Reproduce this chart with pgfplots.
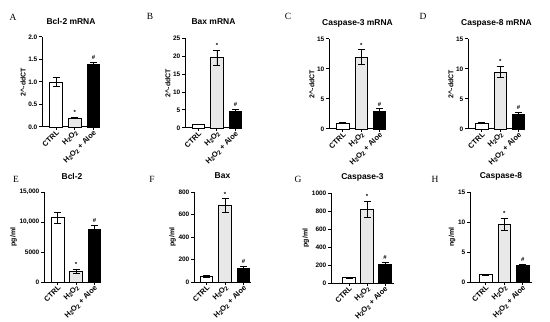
\documentclass[border=0pt]{standalone}
\usepackage{pgfplots}
\pgfplotsset{compat=1.18}
\usepackage{fontspec}
\setmainfont{Liberation Sans}
\newfontfamily\seriffont{Liberation Serif}
\definecolor{lgray}{HTML}{E8E8E8}
\newcommand{\sub}{\raisebox{-0.3ex}{\fontsize{6}{6}\selectfont 2}}
\newcommand{\hto}{H\sub O\sub}
\pgfplotsset{
  gp/.style={
    scale only axis,
    anchor=south west,
    height=90bp,
    axis x line*=bottom, axis y line*=left,
    axis line style={line width=1pt,-},
    ymin=0,
    scaled y ticks=false,
    xtick={0,1,2},
    xticklabels={CTRL,\hto,\hto{} + Aloe},
    tick align=outside,
    major tick length=3bp,
    tick style={line width=1pt,black},
    xticklabel style={rotate=45,anchor=east,font=\bfseries\fontsize{7.5}{8}\selectfont,inner sep=1pt,yshift=-2.5bp,xshift=1bp},
    yticklabel style={font=\bfseries\fontsize{6.5}{7}\selectfont,inner sep=1.5pt},
    ylabel style={font=\bfseries\fontsize{7}{8}\selectfont,inner sep=1pt},
    title style={font=\bfseries\fontsize{8.5}{10}\selectfont,at={(axis description cs:0.5,1)},anchor=center,yshift=10bp},
    /pgf/number format/assume math mode=true,
    /pgf/number format/1000 sep={},
    clip=false,
  },
  bst/.style={ybar,bar shift=0pt,bar width=12.5bp,draw=black,line width=0.8pt,
    error bars/y dir=both,error bars/y explicit,
    error bars/error bar style={line width=0.8pt,black},
    error bars/error mark options={rotate=90,mark size=3.5bp,line width=0.8pt,black}},
}
\tikzset{ann/.style={anchor=south,yshift=2bp,inner sep=0.5pt,font=\bfseries\fontsize{6}{7}\selectfont}}
\begin{document}
\begin{tikzpicture}
\useasboundingbox (0bp,0bp) rectangle (550bp,322bp);
% panel letters
\foreach \l/\px/\py in {A/13/17,B/150/16,C/288/16,D/423/16,E/16/179,F/152/179,G/298/179,H/435/179}{
  \node[font=\seriffont\fontsize{9.5}{10}\selectfont] at (\px bp,322bp-\py bp) {\l};
}
% ---------- A
\begin{axis}[gp,at={(42bp,195bp)},width=58bp,xmin=-0.75,xmax=2.35,ymax=2.0,
  ytick={0,0.5,1,1.5,2},yticklabel style={/pgf/number format/.cd,fixed,fixed zerofill,precision=1},
  ylabel={2\textasciicircum-ddCT},title={Bcl-2 mRNA}]
\addplot[bst,fill=white] coordinates {(0,1.0) +- (0,0.1)};
\addplot[bst,fill=lgray] coordinates {(1,0.2) +- (0,0.02)};
\addplot[bst,fill=black] coordinates {(2,1.4) +- (0,0.04)};
\node[ann] at (axis cs:1,0.22) {*};
\node[ann] at (axis cs:2,1.44) {\#};
\end{axis}
% ---------- B
\begin{axis}[gp,at={(185bp,194bp)},width=57bp,xmin=-0.72,xmax=2.35,ymax=25,
  ytick={0,5,10,15,20,25},
  ylabel={2\textasciicircum-ddCT},title={Bax mRNA}]
\addplot[bst,fill=white] coordinates {(0,1.0) +- (0,0.1)};
\addplot[bst,fill=lgray] coordinates {(1,19.5) +- (0,2.0)};
\addplot[bst,fill=black] coordinates {(2,4.7) +- (0,0.5)};
\node[ann] at (axis cs:1,21.5) {*};
\node[ann] at (axis cs:2,5.2) {\#};
\end{axis}
% ---------- C
\begin{axis}[gp,at={(329bp,193bp)},width=57bp,xmin=-0.75,xmax=2.35,ymax=15,
  ytick={0,5,10,15},
  ylabel={2\textasciicircum-ddCT},title={Caspase-3 mRNA}]
\addplot[bst,fill=white] coordinates {(0,1.0) +- (0,0.08)};
\addplot[bst,fill=lgray] coordinates {(1,12.0) +- (0,1.2)};
\addplot[bst,fill=black] coordinates {(2,3.0) +- (0,0.35)};
\node[ann] at (axis cs:1,13.2) {*};
\node[ann] at (axis cs:2,3.35) {\#};
\end{axis}
% ---------- D
\begin{axis}[gp,at={(468bp,193bp)},width=57bp,xmin=-0.75,xmax=2.35,ymax=15,
  ytick={0,5,10,15},
  ylabel={2\textasciicircum-ddCT},title={Caspase-8 mRNA}]
\addplot[bst,fill=white] coordinates {(0,1.0) +- (0,0.08)};
\addplot[bst,fill=lgray] coordinates {(1,9.5) +- (0,0.9)};
\addplot[bst,fill=black] coordinates {(2,2.5) +- (0,0.3)};
\node[ann] at (axis cs:1,10.4) {*};
\node[ann] at (axis cs:2,2.8) {\#};
\end{axis}
% ---------- E
\begin{axis}[gp,at={(44bp,40bp)},width=56bp,xmin=-0.75,xmax=2.3,ymax=15000,
  ytick={0,5000,10000,15000},yticklabels={0,5000,{10,000},{15,000}},
  ylabel={pg/ml},title={Bcl-2}]
\addplot[bst,fill=white] coordinates {(0,10700) +- (0,900)};
\addplot[bst,fill=lgray] coordinates {(1,1800) +- (0,300)};
\addplot[bst,fill=black] coordinates {(2,8700) +- (0,800)};
\node[ann] at (axis cs:1,2100) {*};
\node[ann] at (axis cs:2,9500) {\#};
\end{axis}
% ---------- F
\begin{axis}[gp,at={(194bp,40bp)},width=57bp,xmin=-0.68,xmax=2.4,ymax=800,
  ytick={0,200,400,600,800},
  ylabel={pg/ml},title={Bax}]
\addplot[bst,fill=white] coordinates {(0,50) +- (0,5)};
\addplot[bst,fill=lgray] coordinates {(1,680) +- (0,60)};
\addplot[bst,fill=black] coordinates {(2,125) +- (0,15)};
\node[ann] at (axis cs:1,740) {*};
\node[ann] at (axis cs:2,140) {\#};
\end{axis}
% ---------- G
\begin{axis}[gp,at={(331bp,39bp)},width=63bp,xmin=-1.0,xmax=2.5,ymax=1000,
  ytick={0,200,400,600,800,1000},
  ylabel={pg/ml},title={Caspase-3}]
\addplot[bst,fill=white] coordinates {(0,60) +- (0,5)};
\addplot[bst,fill=lgray] coordinates {(1,820) +- (0,90)};
\addplot[bst,fill=black] coordinates {(2,205) +- (0,25)};
\node[ann] at (axis cs:1,910) {*};
\node[ann] at (axis cs:2,230) {\#};
\end{axis}
% ---------- H
\begin{axis}[gp,at={(470bp,40bp)},width=62bp,xmin=-0.85,xmax=2.5,ymax=15,
  ytick={0,5,10,15},
  ylabel={ng/ml},title={Caspase-8}]
\addplot[bst,fill=white] coordinates {(0,1.2) +- (0,0.1)};
\addplot[bst,fill=lgray] coordinates {(1,9.6) +- (0,1.0)};
\addplot[bst,fill=black] coordinates {(2,2.7) +- (0,0.3)};
\node[ann] at (axis cs:1,10.6) {*};
\node[ann] at (axis cs:2,3.0) {\#};
\end{axis}
\end{tikzpicture}
\end{document}
